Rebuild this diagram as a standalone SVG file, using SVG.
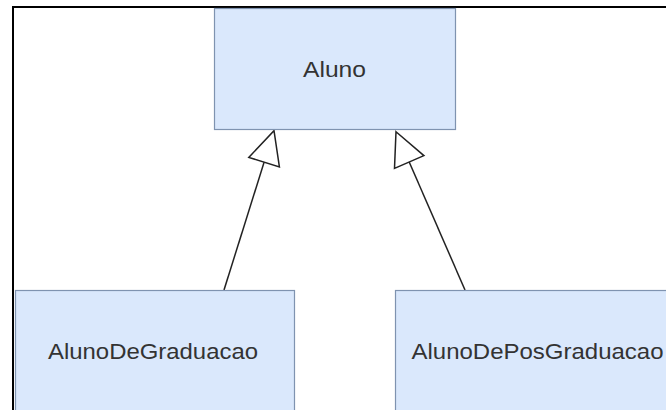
<svg xmlns="http://www.w3.org/2000/svg" width="666" height="410" viewBox="0 0 666 410">
<style>
.box{fill:#dae8fc;stroke:#7f93b0;stroke-width:1.2}
.lbl{font-family:"Liberation Sans",Arial,sans-serif;font-size:22px;fill:#333;text-anchor:middle}
.edge{stroke:#222;stroke-width:1.5;fill:none}
.head{stroke:#222;stroke-width:1.5;fill:#fff;stroke-linejoin:miter}
</style>
<rect x="0" y="0" width="666" height="410" fill="#fff"/>
<rect x="13" y="7" width="720" height="520" fill="none" stroke="#000" stroke-width="2"/>
<g id="connectors">
<g id="edge-grad">
<line class="edge" x1="224" y1="290" x2="264.1" y2="162.2"/>
<polygon class="head" points="274,130.7 279.4,167 248.8,157.4"/>
</g>
<g id="edge-pos">
<line class="edge" x1="465" y1="290" x2="409.2" y2="162"/>
<polygon class="head" points="396,131.7 423.9,155.6 394.5,168.4"/>
</g>
</g>
<g id="node-aluno">
<rect class="box" x="214.5" y="8.5" width="241" height="121"/>
<text class="lbl" x="334.5" y="77" textLength="63" lengthAdjust="spacingAndGlyphs">Aluno</text>
</g>
<g id="node-grad">
<rect class="box" x="15.5" y="290.5" width="279" height="125"/>
<text class="lbl" x="153" y="359" textLength="210" lengthAdjust="spacingAndGlyphs">AlunoDeGraduacao</text>
</g>
<g id="node-pos">
<rect class="box" x="395.5" y="290.5" width="290" height="125"/>
<text class="lbl" x="537.5" y="359" textLength="252" lengthAdjust="spacingAndGlyphs">AlunoDePosGraduacao</text>
</g>
</svg>
